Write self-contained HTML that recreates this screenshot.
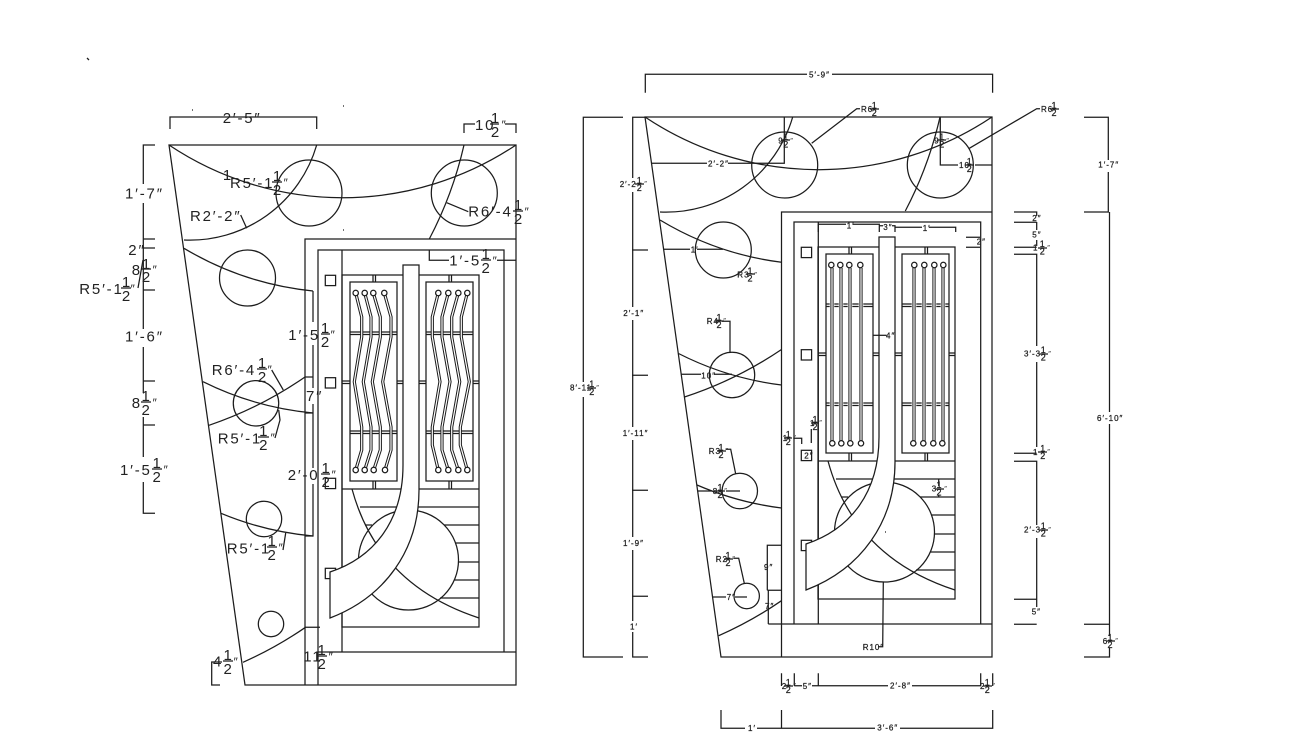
<!DOCTYPE html>
<html><head><meta charset="utf-8"><style>
html,body{margin:0;padding:0;background:#fff}
svg{display:block}
.ln{fill:none;stroke:#1c1c1c;stroke-width:1.25}
.sh{fill:#fff;stroke:#1c1c1c;stroke-width:1.25}
text{font-family:"Liberation Sans",sans-serif;fill:#222}
.L{font-size:15px;letter-spacing:1.8px}
.Lf{font-size:15px;text-anchor:middle}
.Lq{font-size:12px;font-style:italic}
.S{font-size:8px;letter-spacing:1px}
.S text,.Sf text{stroke:#222;stroke-width:.25}
.Sf{font-size:9px;text-anchor:middle}
.Sq{font-size:7px;font-style:italic}
</style></head><body>
<svg xmlns="http://www.w3.org/2000/svg" width="1293" height="752" viewBox="0 0 1293 752">
<rect width="1293" height="752" fill="#fff"/>
<defs>
<g id="core">
<circle class="ln" cx="408.5" cy="560" r="50"/>
<rect class="ln" x="342" y="275" width="137" height="352"/>
<path class="ln" d="M342 489H479M373 275v7M375.500 275v7M449 275v7M451.500 275v7M373 481v8M375.500 481v8M449 481v8M451.500 481v8"/>
<path class="ln" d="M342 381h8M342 383.500h8M397 381h6M397 383.500h6M419 381h7M419 383.500h7M473 381h6M473 383.500h6"/>
<path class="ln" d="M360 507H398M418 507H479M365 525H372M444 525H479M455 543H479M458 562H479M454 580H479M440 598H479"/>
<path class="ln" d="M352 489Q378 585 479 618"/>
<rect class="ln" x="325.300" y="275.300" width="10.300" height="10.300"/>
<rect class="ln" x="325.300" y="377.700" width="10.300" height="10.300"/>
<rect class="ln" x="325.300" y="478.300" width="10.300" height="10.300"/>
<rect class="ln" x="325.300" y="568.300" width="10.300" height="10.300"/>
<path class="sh" d="M403 265H419V490C419 550 385 597 330 618V572C375 557 403 520 403 465Z"/>
<rect class="ln" x="350" y="282" width="47" height="199"/>
<rect class="ln" x="426" y="282" width="47" height="199"/>
</g>
<path id="zz" d="M355.700 293L361.700 317V337L354.300 381.700L361.700 427V450L355.700 470M364.700 293L371 317V337L363.300 381.700L371 427V450L364.700 470M373.300 293L380.300 317V337L372.300 381.700L380.300 427V450L373.700 470M384.300 293L391 317V337L382.700 381.700L391 427V450L385 470M438.300 293L432.300 317V337L440 381.700L432.300 427V445L438.300 470M448.300 293L442 317V337L450 381.700L442 427V450L448.300 470M458.300 293L451.700 317V337L459.700 381.700L451.700 427V450L458.300 470M467.300 293L461.300 317V337L469.300 381.700L460.300 427V445L467.300 470"/>
</defs>

<!-- LEFT DRAWING -->
<path class="ln" d="M169 145H516V685H245ZM305 685V239H516M318 685V250H504V652M318 652H516M342 250V652"/>
<use href="#core"/>
<path class="ln" d="M350 332h47M350 334.500h47M426 332h47M426 334.500h47M350 431h47M350 433.500h47M426 431h47M426 433.500h47"/>
<use href="#zz" fill="none" stroke="#1c1c1c" stroke-width="3.200"/>
<use href="#zz" fill="none" stroke="#fff" stroke-width="1.200"/>
<g class="sh" fill="#fff">
<circle cx="355.700" cy="293" r="2.700"/><circle cx="364.700" cy="293" r="2.700"/><circle cx="373.300" cy="293" r="2.700"/><circle cx="384.300" cy="293" r="2.700"/>
<circle cx="438.300" cy="293" r="2.700"/><circle cx="448.300" cy="293" r="2.700"/><circle cx="458.300" cy="293" r="2.700"/><circle cx="467.300" cy="293" r="2.700"/>
<circle cx="355.700" cy="470" r="2.700"/><circle cx="364.700" cy="470" r="2.700"/><circle cx="373.700" cy="470" r="2.700"/><circle cx="385" cy="470" r="2.700"/>
<circle cx="438.300" cy="470" r="2.700"/><circle cx="448.300" cy="470" r="2.700"/><circle cx="458.300" cy="470" r="2.700"/><circle cx="467.300" cy="470" r="2.700"/>
</g>
<g class="ln">
<circle cx="309" cy="193" r="33"/><circle cx="464.300" cy="193" r="33"/><circle cx="247.500" cy="278" r="28"/><circle cx="256" cy="403.300" r="22.700"/><circle cx="264" cy="519" r="17.700"/><circle cx="271" cy="624" r="12.700"/>
<path d="M169 145A312 312 0 0 0 516 145"/>
<path d="M184 240A132 132 0 0 0 316.700 145"/>
<path d="M464 145A388 388 0 0 1 429.300 239"/>
<path d="M184 248.300A312 312 0 0 0 313 291"/>
<path d="M203 381.700A312 312 0 0 0 313 413"/>
<path d="M209 425.300A388 388 0 0 0 305 377"/>
<path d="M221 513.300A312 312 0 0 0 313 536"/>
<path d="M243 662.300A388 388 0 0 0 305.500 627.300H320"/>
<path d="M170 129V117H316.700V129M464 133V124H475M505 124H516V133"/>
<path d="M155 145H143.300V184M143.300 203V329M143.300 347V393M143.300 417V457M143.300 482V513.300H155M143.300 239H155M143.300 248H155M143.300 290H155M143.300 381H155M143.300 425H155"/>
<path d="M305 377H313V388M313 404V413H305M313 291V322M313 345V377M313 413V468M313 484V536H305"/>
<path d="M429.300 250V260.300H449M497 260.300H516"/>
<path d="M240.700 215L246.700 228.300M138 288L143 260M271.700 370L283.300 390M278.700 410L280 420L275 438M285.700 533L283 550M446.700 202.700L468.300 211.700"/>
<path d="M222 662H211.700V685H220"/>
<path d="M272 182h10M121 288h10M141 269h10M321 334h9M257 369h10M141 402h10M258 437h11M267 547h10M152 469h10M321 474h9M223 661h10M317 656h10M513 211h10M481 260h10M490 124h9"/>
<path d="M87 58l2 2M192 110h1M343 106h1M343 230h1"/>
</g>
<g class="L">
<text x="222.700" y="123">2′-5″</text>
<text x="475" y="130">10</text>
<text x="230" y="188">R5′-1</text>
<text x="190" y="221">R2′-2″</text>
<text x="128.300" y="255">2″</text>
<text x="131.700" y="275">8</text>
<text x="79.300" y="294">R5′-1</text>
<text x="125" y="198.300">1′-7″</text>
<text x="125" y="341.700">1′-6″</text>
<text x="288.300" y="340">1′-5</text>
<text x="211.700" y="375">R6′-4</text>
<text x="306" y="401">7″</text>
<text x="131.700" y="408">8</text>
<text x="217.700" y="443.300">R5′-1</text>
<text x="120" y="475">1′-5</text>
<text x="287.700" y="480">2′-0</text>
<text x="226.700" y="553.300">R5′-1</text>
<text x="213" y="666.700">4</text>
<text x="303.300" y="661.700">11</text>
<text x="468.300" y="216.700">R6′-4</text>
<text x="449.300" y="265.700">1′-5</text>
</g>
<g class="Lf">
<text x="227" y="180">1</text>
<text x="277" y="181">1</text><text x="277" y="195">2</text>
<text x="146" y="269">1</text><text x="146" y="282">2</text>
<text x="126" y="287">1</text><text x="126" y="301">2</text>
<text x="325" y="333">1</text><text x="325" y="347">2</text>
<text x="262" y="368">1</text><text x="262" y="382">2</text>
<text x="145.700" y="401">1</text><text x="145.700" y="415">2</text>
<text x="263.300" y="436">1</text><text x="263.300" y="450">2</text>
<text x="156.700" y="468">1</text><text x="156.700" y="482">2</text>
<text x="325.700" y="473">1</text><text x="325.700" y="487">2</text>
<text x="271.700" y="546">1</text><text x="271.700" y="560">2</text>
<text x="227.700" y="660">1</text><text x="227.700" y="674">2</text>
<text x="321.700" y="655">1</text><text x="321.700" y="669">2</text>
<text x="518" y="210">1</text><text x="518" y="224">2</text>
<text x="485.700" y="259">1</text><text x="485.700" y="273">2</text>
<text x="495" y="123">1</text><text x="495" y="137">2</text>
</g>
<g class="Lq">
<text x="501" y="129">″</text><text x="283" y="187">″</text><text x="130" y="293">″</text><text x="152" y="274">″</text>
<text x="330" y="339">″</text><text x="267" y="374">″</text><text x="152" y="407">″</text><text x="270" y="442">″</text>
<text x="163" y="474">″</text><text x="331" y="479">″</text><text x="278" y="552">″</text><text x="233" y="666">″</text>
<text x="328" y="661">″</text><text x="524" y="216">″</text><text x="492" y="265">″</text>
</g>

<!-- RIGHT DRAWING -->
<path class="ln" d="M645 117H992V657H721ZM781.500 657V212H992M794 624V222H980.700V624M768.300 624H992M818.300 222V624M767.300 590.300V545.300H781.500M767.300 590.300H781.500M768.300 590.300V624"/>
<use href="#core" transform="translate(476 -28)"/>
<path class="ln" d="M826 304h47M826 306.500h47M902 304h47M902 306.500h47M826 403h47M826 405.500h47M902 403h47M902 405.500h47"/>
<g fill="none">
<path stroke="#fff" stroke-width="4.600" d="M832 268V441M841 268V441M850 268V441M861 268V441M914 268V441M924 268V441M934 268V441M943 268V441"/>
<path stroke="#1c1c1c" stroke-width="3.200" d="M832 268V441M841 268V441M850 268V441M861 268V441M914 268V441M924 268V441M934 268V441M943 268V441"/>
<path stroke="#fff" stroke-width="1.200" d="M832 266V443M841 266V443M850 266V443M861 266V443M914 266V443M924 266V443M934 266V443M943 266V443"/>
</g>
<g class="sh">
<circle cx="831.300" cy="265" r="2.700"/><circle cx="840.300" cy="265" r="2.700"/><circle cx="849.300" cy="265" r="2.700"/><circle cx="860.300" cy="265" r="2.700"/>
<circle cx="914.300" cy="265" r="2.700"/><circle cx="924.300" cy="265" r="2.700"/><circle cx="934.300" cy="265" r="2.700"/><circle cx="943.300" cy="265" r="2.700"/>
<circle cx="832.300" cy="443.300" r="2.700"/><circle cx="841.300" cy="443.300" r="2.700"/><circle cx="850.300" cy="443.300" r="2.700"/><circle cx="861" cy="443.300" r="2.700"/>
<circle cx="913.300" cy="443.300" r="2.700"/><circle cx="923.300" cy="443.300" r="2.700"/><circle cx="933.300" cy="443.300" r="2.700"/><circle cx="942.300" cy="443.300" r="2.700"/>
</g>
<g class="ln">
<circle cx="784.700" cy="165" r="33"/><circle cx="940.300" cy="165" r="33"/><circle cx="723.300" cy="250" r="28"/><circle cx="732" cy="375" r="22.700"/><circle cx="739.800" cy="491" r="17.700"/><circle cx="746.700" cy="596" r="12.700"/>
<path d="M645 117A312 312 0 0 0 992 117"/>
<path d="M660 212A132 132 0 0 0 792.700 117"/>
<path d="M940 117A388 388 0 0 1 905.300 211"/>
<path d="M660 220A312 312 0 0 0 781.500 262.300"/>
<path d="M678.500 353.500A312 312 0 0 0 781.500 385"/>
<path d="M684.500 397A388 388 0 0 0 781.500 349.500"/>
<path d="M697 485A312 312 0 0 0 781.500 508"/>
<path d="M718.700 635.700A388 388 0 0 0 781.500 600.700"/>
<path d="M645.300 92.700V74.300H807M832 74.300H992.600V92.700"/>
<path d="M623 117.300H583.300V382M583.300 397V657H623"/>
<path d="M645 117.300H632.700V178M632.700 192V307M632.700 320V427M632.700 440V537M632.700 550V621M632.700 632V657H648M632 250H648M632 375.300H648M632 490.300H648M632 596.300H648"/>
<path d="M652 163.300H707M728 163.300H784.300V117.300"/>
<path d="M811.700 143.300L856.700 108.700H860M969.300 148.300L1036.700 108.700H1040"/>
<path d="M940.300 117.300V165H958M975 165H992"/>
<path d="M664 249.300H690M697 249.300H723"/>
<path d="M722 321.300H730V353M681 374.300H701M714 374.300H732M725.700 449.300H730.700L735.700 474M698 491H712M726 491H740M733.300 558.300H738.700L744.300 583.300M712.300 597H726M735 597H747"/>
<path d="M793.300 438.300H801.700V444M811.300 429V443"/>
<path d="M872.700 335.300H886.700"/>
<path d="M818.300 232V224.300H846M853 224.300H879.300V232M879.300 225.700H883M892 225.700H895V232M895 227.300H922M929 227.300H955.700V232"/>
<path d="M966 237.300H980M966 247.300H980"/>
<path d="M1014 212H1036.700V216M1014 222.300H1036.700M1036.700 222V230M1036.700 240V246M1014 247.300H1036.700M1014 254.300H1036.700V346M1036.700 362V447M1014 453.300H1036.700M1014 461.300H1036.700V525M1036.700 538V607M1014 599.300H1036.700M1014 624.300H1036.700"/>
<path d="M1084 117.300H1108.300V160M1108.300 172V212H1084M1109.500 212V412M1109.500 424V624.300H1084M1109.500 624.300V636M1109.500 648V657H1084"/>
<path d="M781.500 673.300V686M794.300 673.300V686M818.300 673.300V686M980.700 673.300V686M992.700 673.300V686M794.300 685.700H802M812 685.700H818.300M818.300 685.700H888M912 685.700H981"/>
<path d="M721 710V728.300H745M757 728.300H875M900 728.300H992.700V710M781.500 710V728.300"/>
<path d="M883.300 582.300L882.700 646.700H878"/>
<path d="M938.700 479V486M938.700 495V497"/>
<path d="M870 109h9M1050 109h9M781 140h9M937 140h9M965 165h9M746 274h9M715 321h9M717 451h9M716 491h9M724 559h9M784 438h8M811 423h8M1038 248h9M1039 354h9M1038 452h9M1039 530h9M1106 641h9M587 388h9M635 184h9M784 686h9M983 686h9M935 489h9"/>
<path d="M885 532h1"/>
</g>
<g class="S">
<text x="809" y="77.300">5′-9″</text>
<text x="570" y="390.700">8′-11</text>
<text x="619.700" y="187">2′-2</text>
<text x="623.300" y="316">2′-1″</text>
<text x="622.700" y="436">1′-11″</text>
<text x="623" y="546">1′-9″</text>
<text x="630" y="629.300">1′</text>
<text x="708" y="166.700">2′-2″</text>
<text x="861" y="112">R6</text>
<text x="1041" y="112">R6</text>
<text x="778.300" y="143.300">9</text>
<text x="934.300" y="143.300">9</text>
<text x="959" y="168">10</text>
<text x="690.700" y="252.700">1′</text>
<text x="737.300" y="277.300">R3</text>
<text x="706.700" y="324">R4</text>
<text x="701.300" y="378.300">10″</text>
<text x="708.700" y="454">R3</text>
<text x="712.700" y="494">8</text>
<text x="715.700" y="562">R2</text>
<text x="726.700" y="600">7″</text>
<text x="764" y="570">9″</text>
<text x="765" y="609">7″</text>
<text x="782.700" y="441">1</text>
<text x="810" y="426">1</text>
<text x="804.300" y="458.300">2″</text>
<text x="886" y="338.300">4″</text>
<text x="846.700" y="228.300">1′</text>
<text x="883.300" y="230">3″</text>
<text x="922.700" y="231">1′</text>
<text x="976.700" y="244.300">2″</text>
<text x="1032.300" y="221">2″</text>
<text x="1032.300" y="237.700">5″</text>
<text x="1033" y="250.700">1</text>
<text x="1024" y="356.700">3′-3</text>
<text x="1033" y="455">1</text>
<text x="1024" y="532.700">2′-3</text>
<text x="1031.700" y="614.300">5″</text>
<text x="1098.300" y="167.700">1′-7″</text>
<text x="1097" y="421">6′-10″</text>
<text x="1102.700" y="644">6</text>
<text x="890" y="688.700">2′-8″</text>
<text x="802.700" y="689">5″</text>
<text x="781.700" y="689">2</text>
<text x="980" y="689">2</text>
<text x="877.300" y="730.700">3′-6″</text>
<text x="748" y="731">1′</text>
<text x="862.700" y="650">R10″</text>
<text x="931.700" y="491.700">3</text>
</g>
<g class="Sf">
<text x="591.700" y="387">1</text><text x="591.700" y="395">2</text>
<text x="639.300" y="183.500">1</text><text x="639.300" y="191">2</text>
<text x="874.300" y="108.500">1</text><text x="874.300" y="116">2</text>
<text x="1054" y="108.500">1</text><text x="1054" y="116">2</text>
<text x="785.700" y="139.800">1</text><text x="785.700" y="147.300">2</text>
<text x="941.700" y="139.800">1</text><text x="941.700" y="147.300">2</text>
<text x="969.300" y="164.500">1</text><text x="969.300" y="172">2</text>
<text x="750" y="273.800">1</text><text x="750" y="281.300">2</text>
<text x="719" y="320.500">1</text><text x="719" y="328">2</text>
<text x="721" y="450.500">1</text><text x="721" y="458">2</text>
<text x="720" y="490.500">1</text><text x="720" y="498">2</text>
<text x="728" y="558.500">1</text><text x="728" y="566">2</text>
<text x="788.300" y="437.500">1</text><text x="788.300" y="445">2</text>
<text x="815" y="422.500">1</text><text x="815" y="430">2</text>
<text x="1042.300" y="247.200">1</text><text x="1042.300" y="254.700">2</text>
<text x="1043.300" y="353.200">1</text><text x="1043.300" y="360.700">2</text>
<text x="1042.700" y="451.500">1</text><text x="1042.700" y="459">2</text>
<text x="1043.300" y="529.200">1</text><text x="1043.300" y="536.700">2</text>
<text x="1110" y="640.500">1</text><text x="1110" y="648">2</text>
<text x="788.300" y="685.500">1</text><text x="788.300" y="693">2</text>
<text x="987.300" y="685.500">1</text><text x="987.300" y="693">2</text>
<text x="939" y="488.200">1</text><text x="939" y="495.700">2</text>
</g>
<g class="Sq">
<text x="596" y="390">″</text><text x="644" y="186">″</text><text x="790" y="143">″</text><text x="946" y="143">″</text>
<text x="754" y="277">″</text><text x="723" y="323">″</text><text x="725" y="453">″</text><text x="724" y="493">″</text>
<text x="732" y="561">″</text><text x="793" y="440">″</text><text x="819" y="425">″</text><text x="1047" y="250">″</text>
<text x="1048" y="356">″</text><text x="1047" y="454">″</text><text x="1048" y="532">″</text><text x="1115" y="643">″</text>
<text x="793" y="688">″</text><text x="992" y="688">″</text><text x="944" y="491">″</text>
</g>
</svg>
</body></html>
